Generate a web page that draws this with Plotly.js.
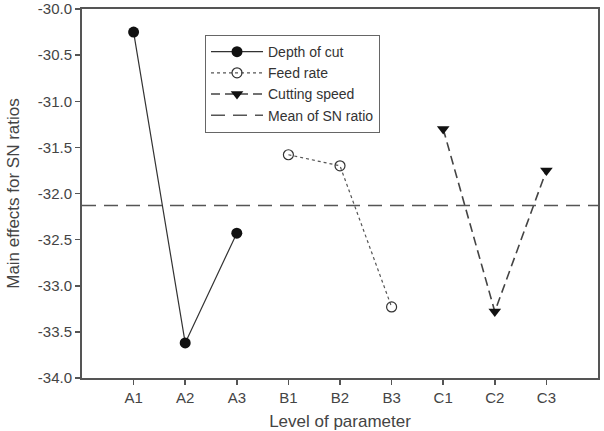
<!DOCTYPE html>
<html><head><meta charset="utf-8">
<script src="https://cdn.plot.ly/plotly-3.0.1.min.js"></script>
<style>body{margin:0;background:#fff}#chart{width:604px;height:431px}</style>
</head><body><div id="chart"></div>
<script>
const categories = ["A1","A2","A3","B1","B2","B3","C1","C2","C3"];
const depthLabels = ["A1","A2","A3"];
const depthValues = [-30.25, -33.62, -32.43];
const feedLabels = ["B1","B2","B3"];
const feedValues = [-31.58, -31.70, -33.23];
const speedLabels = ["C1","C2","C3"];
const speedValues = [-31.30, -33.28, -31.75];
const meanSN = -32.13;
const yTickVals = [-34, -33.5, -33, -32.5, -32, -31.5, -31, -30.5, -30];
const yTickText = ["-34.0","-33.5","-33.0","-32.5","-32.0","-31.5","-31.0","-30.5","-30.0"];

const pos = l => categories.indexOf(l) + 1;
const traces = [
  {x: depthLabels.map(pos), y: depthValues, name: "Depth of cut", mode: "lines+markers",
   line: {color: "#333", width: 1.2, dash: "solid"}, marker: {symbol: "circle", size: 11, color: "#111"}},
  {x: feedLabels.map(pos), y: feedValues, name: "Feed rate", mode: "lines+markers",
   line: {color: "#555", width: 1.2, dash: "dot"}, marker: {symbol: "circle-open", size: 10, color: "#333", line: {width: 1.2}}},
  {x: speedLabels.map(pos), y: speedValues, name: "Cutting speed", mode: "lines+markers",
   line: {color: "#444", width: 1.6, dash: "9px,5px"}, marker: {symbol: "triangle-down", size: 11, color: "#111"}},
  {x: [0, categories.length + 1], y: [meanSN, meanSN], name: "Mean of SN ratio", mode: "lines",
   line: {color: "#555", width: 1.6, dash: "14px,8px"}}
];
const layout = {
  width: 604, height: 431,
  margin: {l: 82, r: 6, t: 9, b: 53},
  paper_bgcolor: "#fff", plot_bgcolor: "#fff",
  font: {family: "Liberation Sans, Arial, sans-serif", size: 15, color: "#444"},
  showlegend: true,
  legend: {x: 0.238, y: 0.93, xanchor: "left", yanchor: "top", bgcolor: "#fff", itemwidth: 52,
           bordercolor: "#666", borderwidth: 1.2, font: {size: 14, color: "#333"}, tracegroupgap: 0},
  xaxis: {range: [0, categories.length + 1], tickvals: categories.map((c,i)=>i+1), ticktext: categories,
          showgrid: false, zeroline: false, showline: true, linecolor: "#555", linewidth: 2, mirror: true,
          ticks: "outside", ticklen: 5, tickcolor: "#555", tickwidth: 1.5,
          title: {text: "Level of parameter", font: {size: 17, color: "#444"}, standoff: 20}},
  yaxis: {range: [-34, -30], tickvals: yTickVals, ticktext: yTickText, showgrid: false, zeroline: false,
          showline: true, linecolor: "#555", linewidth: 2, mirror: true, ticklabeloverflow: "allow",
          ticks: "outside", ticklen: 5, tickcolor: "#555", tickwidth: 1.5,
          title: {text: "Main effects for SN ratios", font: {size: 17, color: "#444"}, standoff: 14}}
};
Plotly.newPlot("chart", traces, layout, {displayModeBar: false, staticPlot: true});
</script></body></html>
